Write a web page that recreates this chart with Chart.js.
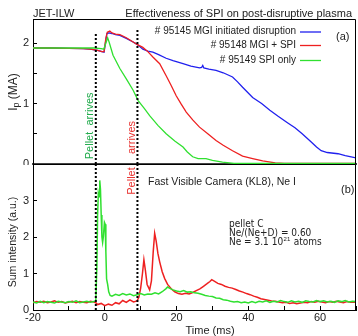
<!DOCTYPE html>
<html>
<head>
<meta charset="utf-8">
<script src="https://cdn.jsdelivr.net/npm/chart.js@4.4.1/dist/chart.umd.min.js"></script>
<style>
html, body { margin: 0; padding: 0; background: #fff; }
#wrap { position: relative; width: 358px; height: 336px; overflow: hidden; }
canvas { position: absolute; left: 0; }
#top { top: 0; }
#bot { top: 164px; }
</style>
</head>
<body>
<div id="wrap">
	<canvas id="top" width="358" height="165"></canvas>
	<canvas id="bot" width="358" height="172"></canvas>
</div>
<script>
// plasma current Ip (MA) vs time (ms), [t, Ip]
let ip95145 = [[-20,1.92],[-15,1.92],[-10,1.915],[-6,1.91],[-4,1.9],[-2,1.88],[-0.8,1.86],[-0.2,1.85],[0.3,2.05],[0.6,2.16],[1.2,2.17],[2,2.16],[3,2.14],[4.2,2.13],[6,2.08],[7.9,2.02],[9,1.98],[10.6,1.9],[12,1.87],[13.4,1.85],[15,1.81],[17.1,1.75],[19,1.71],[21.8,1.66],[24,1.62],[26.4,1.59],[27,1.6],[27.3,1.63],[27.6,1.59],[29,1.57],[31,1.55],[33,1.51],[35.6,1.44],[37,1.36],[38.4,1.27],[41.2,1.1],[43.7,1.0],[46,0.89],[48.3,0.79],[51,0.68],[53,0.6],[55,0.5],[57.6,0.36],[59,0.28],[60.3,0.22],[62,0.19],[65,0.17],[67,0.14],[70,0.1]];
let ip95148 = [[-20,1.92],[-15,1.92],[-10,1.915],[-6,1.91],[-4,1.9],[-2,1.88],[-0.8,1.86],[-0.2,1.86],[0.3,2.08],[0.7,2.18],[1.4,2.2],[2,2.17],[3,2.15],[4.2,2.14],[6,2.09],[7.9,2.02],[9,1.98],[10.6,1.93],[12,1.86],[13.4,1.77],[15.3,1.66],[17.1,1.46],[18.5,1.3],[19.9,1.13],[21.3,0.99],[22.7,0.86],[24.5,0.73],[26.4,0.61],[28.7,0.5],[31,0.39],[33,0.31],[35.6,0.22],[38.4,0.13],[41.2,0.09],[44,0.05],[47.5,0.02],[50,0.01],[70,0.01]];
let ip95149 = [[-20,1.92],[-10,1.92],[-3,1.92],[-1,1.91],[-0.3,1.9],[0.3,2.0],[0.8,2.09],[1.2,2.02],[2.3,1.8],[4.2,1.58],[6,1.41],[7.9,1.22],[9.3,1.05],[11,0.92],[12.5,0.8],[14.8,0.64],[17.1,0.5],[19.5,0.38],[21.8,0.28],[23,0.2],[24.5,0.12],[26,0.09],[28.2,0.09],[30,0.06],[32.8,0.03],[36,0.01],[70,0.01]];

// camera Ne I sum intensity (a.u.), [t, value]
let camMgiSpi = [[-20,0.2],[-19,0.23],[-18,0.21],[-17,0.24],[-16,0.2],[-15,0.22],[-14,0.25],[-13,0.21],[-12,0.23],[-11,0.19],[-10,0.22],[-9,0.24],[-8,0.2],[-7,0.23],[-6,0.21],[-5,0.2],[-4,0.24],[-3,0.22],[-2.5,0.2],[-2,0.15],[-1,0.18],[0,0.12],[1,0.16],[2,0.13],[3,0.2],[4,0.17],[5,0.26],[6,0.21],[7,0.28],[8,0.22],[9,0.25],[9.5,0.35],[10,0.6],[10.5,1.0],[10.9,1.38],[11.3,1.1],[11.8,0.7],[12.5,0.55],[13,0.8],[13.5,1.6],[13.9,2.1],[14.3,1.9],[14.8,1.55],[15.3,1.32],[16,1.05],[16.7,0.86],[17.5,0.7],[18.5,0.58],[19.5,0.5],[20.5,0.45],[21.5,0.43],[22.5,0.46],[23.5,0.44],[24.5,0.48],[25.5,0.53],[26.5,0.58],[27.5,0.65],[28.5,0.72],[29.3,0.78],[29.8,0.83],[30.5,0.79],[31.5,0.73],[32.5,0.7],[33.5,0.65],[34.5,0.62],[35.5,0.6],[36.5,0.56],[37.5,0.52],[38.5,0.49],[39.5,0.45],[40.5,0.42],[41.5,0.38],[42.5,0.35],[43.5,0.31],[44.5,0.29],[45.5,0.27],[46.5,0.25],[47.5,0.24],[48.5,0.22],[49.5,0.2],[50.5,0.21],[51.5,0.18],[52.5,0.2],[53.5,0.17],[54.5,0.19],[55.5,0.21],[56.5,0.2],[57.5,0.23],[58.5,0.21],[59.5,0.24],[60.5,0.22],[61.5,0.2],[62.5,0.23],[63.5,0.21],[64.5,0.24],[65.5,0.22],[66.5,0.2],[67.5,0.23],[68.5,0.21],[69.5,0.22],[70,0.21]];
let camSpi = [[-20,0.22],[-19,0.19],[-18,0.24],[-17,0.2],[-16,0.23],[-15,0.21],[-14,0.19],[-13,0.24],[-12,0.22],[-11,0.2],[-10,0.23],[-9,0.21],[-8,0.25],[-7,0.2],[-6,0.22],[-5,0.24],[-4,0.21],[-3,0.23],[-2.5,0.25],[-2.2,1.2],[-2,2.6],[-1.8,3.2],[-1.6,3.1],[-1.4,3.55],[-1.2,3.3],[-1,2.6],[-0.8,2.0],[-0.6,1.85],[-0.4,2.0],[-0.1,2.4],[0.1,2.35],[0.3,1.6],[0.5,0.85],[0.8,0.7],[1.1,0.5],[1.5,0.4],[2,0.38],[3,0.43],[4,0.4],[5,0.45],[6,0.41],[7,0.44],[8,0.39],[9,0.42],[10,0.45],[11,0.41],[12,0.44],[13,0.43],[14,0.47],[15,0.44],[16,0.5],[17,0.58],[17.5,0.63],[18,0.6],[19,0.55],[20,0.52],[21,0.5],[22,0.53],[23,0.49],[24,0.5],[25,0.47],[26,0.46],[27,0.43],[28,0.4],[29,0.38],[30,0.37],[31,0.33],[32,0.32],[33,0.28],[34,0.27],[35,0.24],[36,0.22],[37,0.23],[38,0.2],[39,0.22],[40,0.19],[41,0.23],[42,0.2],[43,0.24],[44,0.22],[45,0.25],[46,0.21],[47,0.24],[48,0.22],[49,0.26],[50,0.23],[51,0.21],[52,0.25],[53,0.22],[54,0.24],[55,0.21],[56,0.25],[57,0.23],[58,0.22],[59,0.26],[60,0.23],[61,0.25],[62,0.22],[63,0.24],[64,0.21],[65,0.25],[66,0.23],[67,0.26],[68,0.22],[69,0.24],[70,0.23]];

// pellet arrival times (ms) for SPI only and MGI + SPI
let pelletTimes = [-2.5, 9.1];
let legendLabels = ["# 95145 MGI initiated disruption", "# 95148 MGI + SPI", "# 95149 SPI only"];

const BLUE = "#2020ee", RED = "#ee2020", GREEN = "#30e030";
const FONT = "'Liberation Sans', Arial, sans-serif";

let pts = (a) => a.map((p) => ({ x: p[0], y: p[1] }));

// fix the axis box size and drop the label overhang padding
function fit(w, h) {
	return (s) => {
		if (w !== null) s.width = w;
		if (h !== null) s.height = h;
		s.paddingTop = 0;
		s.paddingBottom = 0;
		s.paddingLeft = 0;
		s.paddingRight = 0;
	};
}
function line(data, color, w) {
	return { data: pts(data), borderColor: color, borderWidth: w, pointRadius: 0, tension: 0, fill: false };
}
function dotted(t, y0, y1) {
	return { data: [{ x: t, y: y0 }, { x: t, y: y1 }], borderColor: "#000", borderWidth: 2, borderDash: [2, 2], pointRadius: 0, fill: false, order: -1 };
}
function yAxis(min, max, step, label) {
	return {
		min: min, max: max,
		ticks: { stepSize: step, autoSkip: false, padding: 8, color: "#222", font: { family: FONT, size: 11 }, callback: label },
		grid: { drawOnChartArea: false, tickLength: -4, color: "#000" },
		border: { color: "#000" },
		afterFit: fit(33, null),
	};
}
function vtext(ctx, s, x, y, size, color) {
	ctx.save();
	ctx.translate(x, y);
	ctx.rotate(-Math.PI / 2);
	ctx.font = size + "px " + FONT;
	ctx.fillStyle = color;
	ctx.textAlign = "center";
	ctx.textBaseline = "middle";
	ctx.fillText(s, 0, 0);
	ctx.restore();
}
function frame(chart) {
	let a = chart.chartArea, ctx = chart.ctx;
	ctx.save();
	ctx.strokeStyle = "#000";
	ctx.lineWidth = 1;
	ctx.beginPath();
	ctx.moveTo(a.left, a.top + 0.5);
	ctx.lineTo(a.right - 0.5, a.top + 0.5);
	ctx.lineTo(a.right - 0.5, a.bottom);
	ctx.stroke();
	ctx.restore();
}

const topText = {
	id: "topText",
	afterDraw(chart) {
		let ctx = chart.ctx;
		frame(chart);
		ctx.save();
		ctx.fillStyle = "#222";
		ctx.font = "11px " + FONT;
		ctx.textBaseline = "alphabetic";
		ctx.textAlign = "left";
		ctx.fillText("JET-ILW", 33, 17);
		ctx.textAlign = "right";
		ctx.fillText("Effectiveness of SPI on post-disruptive plasma", 352, 17);
		ctx.textAlign = "left";
		ctx.fillText("(a)", 336, 40);
		// legend
		let cols = [BLUE, RED, GREEN], rows = [31.5, 45, 60];
		ctx.font = "10px " + FONT;
		ctx.textAlign = "right";
		ctx.textBaseline = "middle";
		legendLabels.forEach((l, i) => {
			ctx.fillStyle = "#222";
			ctx.fillText(l, 296, rows[i]);
			ctx.strokeStyle = cols[i];
			ctx.lineWidth = 1.3;
			ctx.beginPath();
			ctx.moveTo(300, rows[i] + 0.5);
			ctx.lineTo(321, rows[i] + 0.5);
			ctx.stroke();
		});
		// y title I_p (MA)
		ctx.translate(14, 92);
		ctx.rotate(-Math.PI / 2);
		ctx.fillStyle = "#222";
		ctx.textAlign = "left";
		ctx.textBaseline = "middle";
		ctx.font = "12px " + FONT;
		let wI = ctx.measureText("I").width, wR = ctx.measureText(" (MA)").width;
		ctx.font = "9px " + FONT;
		let wp = ctx.measureText("p").width;
		let x0 = -(wI + wp + wR) / 2;
		ctx.font = "12px " + FONT;
		ctx.fillText("I", x0, 0);
		ctx.font = "9px " + FONT;
		ctx.fillText("p", x0 + wI, 3);
		ctx.font = "12px " + FONT;
		ctx.fillText(" (MA)", x0 + wI + wp, 0);
		ctx.restore();
		vtext(ctx, "Pellet", 89.5, 145.5, 11, "#1faa4a");
		vtext(ctx, "arrives", 89.5, 109, 11, "#1faa4a");
		vtext(ctx, "arrives", 132, 137.5, 11, "#e8312f");
	},
};

const botText = {
	id: "botText",
	afterDraw(chart) {
		let ctx = chart.ctx;
		frame(chart);
		vtext(ctx, "Pellet", 132, 17, 11, "#e8312f");
		vtext(ctx, "Sum intensity (a.u.)", 13, 78, 10.5, "#222");
		ctx.save();
		ctx.fillStyle = "#222";
		ctx.textBaseline = "alphabetic";
		ctx.font = "10.5px " + FONT;
		ctx.fillText("Fast Visible Camera (KL8), Ne I", 148, 21);
		ctx.font = "11px " + FONT;
		ctx.fillText("(b)", 341, 29);
		ctx.textAlign = "center";
		ctx.textBaseline = "middle";
		ctx.fillText("Time (ms)", 210, 167);
		ctx.textAlign = "left";
		ctx.textBaseline = "alphabetic";
		let nf = "10px 'Liberation Sans Narrow', 'DejaVu Sans Condensed', " + FONT;
		ctx.font = nf;
		ctx.fillText("pellet C", 229, 63);
		ctx.fillText("Ne/(Ne+D) = 0.60", 229, 72);
		let s1 = "Ne = 3.1 10";
		ctx.fillText(s1, 229, 81);
		let w1 = ctx.measureText(s1).width;
		ctx.font = "6px 'Liberation Sans Narrow', " + FONT;
		ctx.fillText("21", 229 + w1 + 0.5, 77);
		let w2 = ctx.measureText("21").width;
		ctx.font = nf;
		ctx.fillText(" atoms", 229 + w1 + w2 + 1, 81);
		ctx.restore();
	},
};

let topChart = new Chart(document.getElementById("top"), {
	type: "line",
	data: {
		datasets: [
			dotted(pelletTimes[0], 0, 2.18),
			dotted(pelletTimes[1], 0, 2.22),
			line(ip95149, GREEN, 1.3),
			line(ip95148, RED, 1.3),
			line(ip95145, BLUE, 1.3),
		],
	},
	options: {
		responsive: false,
		animation: false,
		layout: { padding: { left: 0, right: 2, top: 19, bottom: 1 } },
		plugins: { legend: { display: false }, tooltip: { enabled: false } },
		scales: {
			x: {
				type: "linear", min: -20, max: 70,
				ticks: { display: false },
				grid: { display: false },
				border: { display: true, color: "#444", width: 2 },
				afterFit: fit(null, 0),
			},
			y: yAxis(0, 2.4, 0.5, (v) => (Number.isInteger(v) ? v : "")),
		},
	},
	plugins: [topText],
});

let botChart = new Chart(document.getElementById("bot"), {
	type: "line",
	data: {
		datasets: [
			dotted(pelletTimes[0], 0, 4),
			dotted(pelletTimes[1], 0, 4),
			line(camSpi, GREEN, 1.5),
			line(camMgiSpi, RED, 1.5),
		],
	},
	options: {
		responsive: false,
		animation: false,
		layout: { padding: { left: 0, right: 2, top: 0, bottom: 0 } },
		plugins: { legend: { display: false }, tooltip: { enabled: false } },
		scales: {
			x: {
				type: "linear", min: -20, max: 70,
				ticks: { stepSize: 10, autoSkip: false, maxRotation: 0, padding: 5, color: "#222", font: { family: FONT, size: 11 }, callback: (v) => (v % 20 === 0 ? v : "") },
				grid: { drawOnChartArea: false, tickLength: -4, color: "#000" },
				border: { color: "#000" },
				afterFit: fit(null, 26),
			},
			y: yAxis(0, 4, 1, (v) => (v < 4 ? v : "")),
		},
	},
	plugins: [botText],
});
</script>
</body>
</html>
